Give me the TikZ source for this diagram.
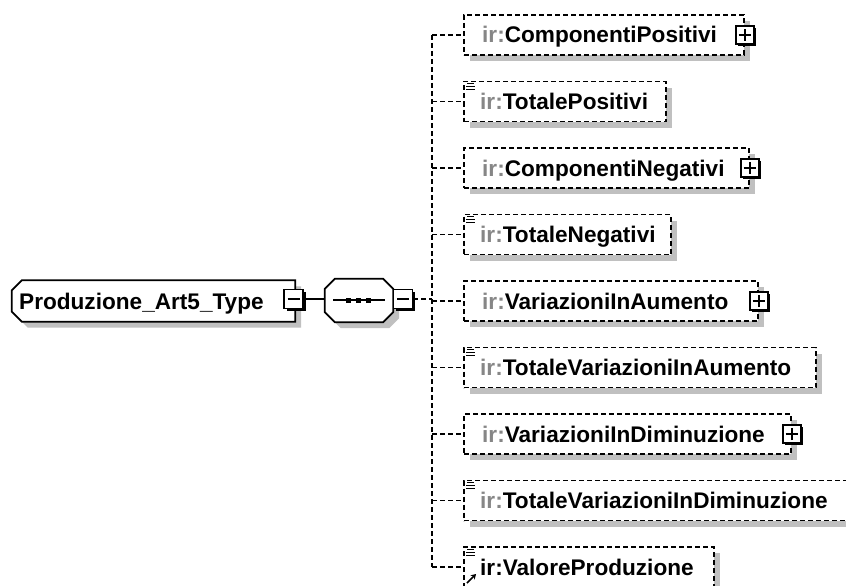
\documentclass[tikz,border=0pt]{standalone}
\usepackage{fontspec}
\setmainfont{Liberation Sans}
\usetikzlibrary{shadows,arrows.meta}
\definecolor{shd}{HTML}{C0C0C0}
\definecolor{irgray}{HTML}{868686}
\tikzset{
  lw/.style={line width=1.7pt},
  dsh/.style={lw, dash pattern=on 5pt off 3pt},
  elem/.style={dsh, draw, fill=white, rectangle, minimum height=40pt, inner sep=0pt, anchor=west,
    general shadow={fill=shd, shadow xshift=6pt, shadow yshift=-6pt}},
  lbl/.style={anchor=base west, inner sep=0pt, font=\bfseries\fontsize{22.6}{27}\selectfont},
  pbox/.style={draw, lw, fill=white, minimum size=18pt, inner sep=0pt,
    general shadow={fill=black, shadow xshift=2pt, shadow yshift=-2pt},
    path picture={\draw[lw] ([xshift=-6pt]path picture bounding box.center) -- ([xshift=6pt]path picture bounding box.center);
                  \draw[lw] ([yshift=-6pt]path picture bounding box.center) -- ([yshift=6pt]path picture bounding box.center);}},
  mbox/.style={draw, lw, fill=white, minimum size=19pt, inner sep=0pt,
    general shadow={fill=black, shadow xshift=2.5pt, shadow yshift=-2.5pt},
    path picture={\draw[lw] ([xshift=-6pt]path picture bounding box.center) -- ([xshift=6pt]path picture bounding box.center);}},
  frame/.style={rectangle, inner sep=0pt},
  outl/.style={draw, lw, fill=white},
  conn/.style={lw},
  icon/.style={line width=1pt},
}
\begin{document}
\begin{tikzpicture}[x=1pt,y=-1pt]
\useasboundingbox[fill=white] (0,0) rectangle (846,586);

% type node
\node[frame, minimum width=283pt, minimum height=41pt] (ty) at (153.5,301) {};
\fill[shd] ([shift={(16pt,-6pt)}]ty.north west) -- ([shift={(6pt,-6pt)}]ty.north east) -- ([shift={(6pt,-6pt)}]ty.south east)
  -- ([shift={(16pt,-6pt)}]ty.south west) -- ([shift={(6pt,4pt)}]ty.south west) -- ([shift={(6pt,-16pt)}]ty.north west) -- cycle;
\draw[outl] ([xshift=10pt]ty.north west) -- (ty.north east) -- (ty.south east)
  -- ([xshift=10pt]ty.south west) -- ([yshift=10pt]ty.south west) -- ([yshift=-10pt]ty.north west) -- cycle;
\node[lbl] (tyl) at (19,309) {Produzione\_Art5\_Type};
\node[mbox] (tm) at (293.5,299) {};

% sequence compositor
\node[frame, minimum width=68pt, minimum height=43pt] (sq) at (359,300.5) {};
\fill[shd] ([shift={(16pt,-6pt)}]sq.north west) -- ([shift={(-4pt,-6pt)}]sq.north east) -- ([shift={(6pt,-16pt)}]sq.north east)
  -- ([shift={(6pt,4pt)}]sq.south east) -- ([shift={(-4pt,-6pt)}]sq.south east) -- ([shift={(16pt,-6pt)}]sq.south west)
  -- ([shift={(6pt,4pt)}]sq.south west) -- ([shift={(6pt,-16pt)}]sq.north west) -- cycle;
\draw[outl] ([xshift=10pt]sq.north west) -- ([xshift=-10pt]sq.north east) -- ([yshift=-10pt]sq.north east) -- ([yshift=10pt]sq.south east)
  -- ([xshift=-10pt]sq.south east) -- ([xshift=10pt]sq.south west) -- ([yshift=10pt]sq.south west) -- ([yshift=-10pt]sq.north west) -- cycle;
\draw[lw] (333,300) -- (385,300);
\foreach \xx in {348,358,368} \fill (\xx-2.5,297.5) rectangle (\xx+2.5,302.5);
\node[mbox] (sm) at (403,299) {};

\draw[conn] (tm.east) -- (tm.east -| sq.west);

% rows
\foreach \i/\c in {1/35,2/101.5,3/168,4/234.5,5/301,6/367.5,7/434,8/500.5,9/567}
  \coordinate (v\i) at (432,\c);

\draw[dsh] (sm.east) -- (sm.east -| v5);
\draw[dsh] (v1) -- (v9);

\node[elem, minimum width=280pt] (e1) at (463,35) {};
\node[elem, minimum width=202pt] (e2) at (463,101.5) {};
\node[elem, minimum width=285pt] (e3) at (463,168) {};
\node[elem, minimum width=207pt] (e4) at (463,234.5) {};
\node[elem, minimum width=294pt] (e5) at (463,301) {};
\node[elem, minimum width=352pt] (e6) at (463,367.5) {};
\node[elem, minimum width=327pt] (e7) at (463,434) {};
\node[elem, minimum width=392pt] (e8) at (463,500.5) {};
\node[elem, minimum width=250pt] (e9) at (463,567) {};

\foreach \i in {1,...,9} \draw[dsh] (v\i) -- (e\i.west);

\node[lbl] (t1) at (482,43) {\textcolor{irgray}{ir:}ComponentiPositivi};
\node[lbl] (t2) at (480,109.5) {\textcolor{irgray}{ir:}TotalePositivi};
\node[lbl] (t3) at (482,176) {\textcolor{irgray}{ir:}ComponentiNegativi};
\node[lbl] (t4) at (480,242.5) {\textcolor{irgray}{ir:}TotaleNegativi};
\node[lbl] (t5) at (482,309) {\textcolor{irgray}{ir:}VariazioniInAumento};
\node[lbl] (t6) at (480,375.5) {\textcolor{irgray}{ir:}TotaleVariazioniInAumento};
\node[lbl] (t7) at (482,442) {\textcolor{irgray}{ir:}VariazioniInDiminuzione};
\node[lbl] (t8) at (480,508.5) {\textcolor{irgray}{ir:}TotaleVariazioniInDiminuzione};
\node[lbl] (t9) at (480,575) {ir:ValoreProduzione};

\node[pbox] (p1) at (e1.east) {};
\node[pbox] (p3) at (e3.east) {};
\node[pbox] (p5) at (e5.east) {};
\node[pbox] (p7) at (e7.east) {};

% simple-content icons
\foreach \c in {101.5,234.5,367.5,500.5,567} {
  \draw[icon] (467,\c-18) -- (474,\c-18);
  \draw[icon] (466,\c-15) -- (475,\c-15);
  \draw[icon] (466,\c-12) -- (475,\c-12);
}
\draw[line width=1.6pt, -{Stealth[length=5pt,width=6pt]}] (467,583) -- (476,574);
\end{tikzpicture}
\end{document}
